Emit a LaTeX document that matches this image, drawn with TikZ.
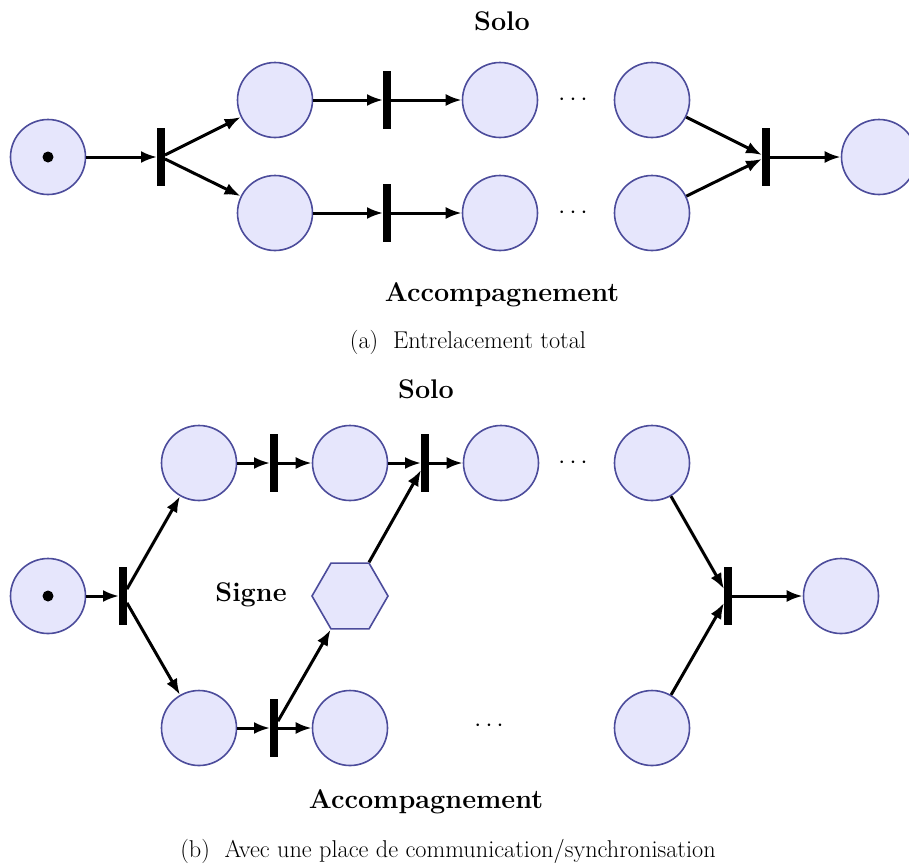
\documentclass[tikz,border=0pt]{standalone}
\usetikzlibrary{shapes.geometric,arrows.meta}
\definecolor{pfill}{RGB}{230,230,252}
\definecolor{pborder}{RGB}{76,76,155}
\tikzset{
 place/.style={circle, draw=pborder, fill=pfill, line width=1.6pt, minimum size=75pt, inner sep=0pt},
 hexa/.style={regular polygon, regular polygon sides=6, draw=pborder, fill=pfill, line width=1.6pt, minimum size=76pt, inner sep=0pt},
 trans/.style={rectangle, fill=black, minimum width=7.5pt, minimum height=58pt, inner sep=0pt},
 arc/.style={-{Latex[length=16pt,width=12pt]}, line width=3pt},
 lbl/.style={font=\bfseries\fontsize{27}{31}\selectfont, inner sep=0pt},
 captext/.style={font=\fontsize{24.3}{28}\selectfont, inner sep=0pt},
 dotsl/.style={font=\fontsize{25}{29}\selectfont, inner sep=0pt},
 token/.style={circle, fill=black, minimum size=11pt, inner sep=0pt},
}
\begin{document}
\begin{tikzpicture}[x=1pt,y=-1pt]
\useasboundingbox (0,0) rectangle (909,865);
% ---------- (a) ----------
\node[lbl] (solo1) at (502,21) {Solo};
\node[place] (a0) at (48,157) {};
\node[token] (a0t) at (48,157) {};
\node[trans] (at0) at (161,157) {};
\node[place] (a1) at (275,100) {};
\node[place] (a2) at (275,213) {};
\node[trans] (at1) at (387,100) {};
\node[trans] (at2) at (387,213) {};
\node[place] (a3) at (500,100) {};
\node[place] (a4) at (500,213) {};
\node[dotsl] (ad1) at (573,100) {$\cdots$};
\node[dotsl] (ad2) at (573,213) {$\cdots$};
\node[place] (a5) at (652,100) {};
\node[place] (a6) at (652,213) {};
\node[trans] (at3) at (766,157) {};
\node[place] (a7) at (879,157) {};
\node[lbl] (acc1) at (502,295) {Accompagnement};
\node[captext] (capa) at (468,342) {(a)\ \ Entrelacement total};
\draw[arc] (a0) -- (at0);
\draw[arc] (at0) -- (a1);
\draw[arc] (at0) -- (a2);
\draw[arc] (a1) -- (at1);
\draw[arc] (at1) -- (a3);
\draw[arc] (a2) -- (at2);
\draw[arc] (at2) -- (a4);
\draw[arc] (a5) -- (at3);
\draw[arc] (a6) -- (at3);
\draw[arc] (at3) -- (a7);
% ---------- (b) ----------
\node[lbl] (solo2) at (426,389) {Solo};
\node[place] (b0) at (48,596) {};
\node[token] (b0t) at (48,596) {};
\node[trans] (bt0) at (123,596) {};
\node[place] (b1) at (199,463) {};
\node[trans] (bt1) at (274,463) {};
\node[place] (b2) at (350,463) {};
\node[trans] (bt2) at (425,463) {};
\node[place] (b3) at (501,463) {};
\node[dotsl] (bd1) at (573,463) {$\cdots$};
\node[place] (b4) at (652,463) {};
\node[lbl] (signe) at (251,595) {Signe};
\node[hexa] (hx) at (350,596) {};
\node[place] (b5) at (199,728) {};
\node[trans] (bt3) at (274,728) {};
\node[place] (b6) at (350,728) {};
\node[dotsl] (bd2) at (489,726) {$\cdots$};
\node[place] (b7) at (652,728) {};
\node[trans] (bt4) at (728,596) {};
\node[place] (b8) at (841,596) {};
\node[lbl] (acc2) at (426,802) {Accompagnement};
\node[captext] (capb) at (448,851) {(b)\ \ Avec une place de communication/synchronisation};
\draw[arc] (b0) -- (bt0);
\draw[arc] (bt0) -- (b1);
\draw[arc] (bt0) -- (b5);
\draw[arc] (b1) -- (bt1);
\draw[arc] (bt1) -- (b2);
\draw[arc] (b2) -- (bt2);
\draw[arc] (bt2) -- (b3);
\draw[arc] (b5) -- (bt3);
\draw[arc] (bt3) -- (b6);
\draw[arc] (bt3) -- (hx);
\draw[arc] (hx) -- (bt2);
\draw[arc] (b4) -- (bt4);
\draw[arc] (b7) -- (bt4);
\draw[arc] (bt4) -- (b8);
\end{tikzpicture}
\end{document}
